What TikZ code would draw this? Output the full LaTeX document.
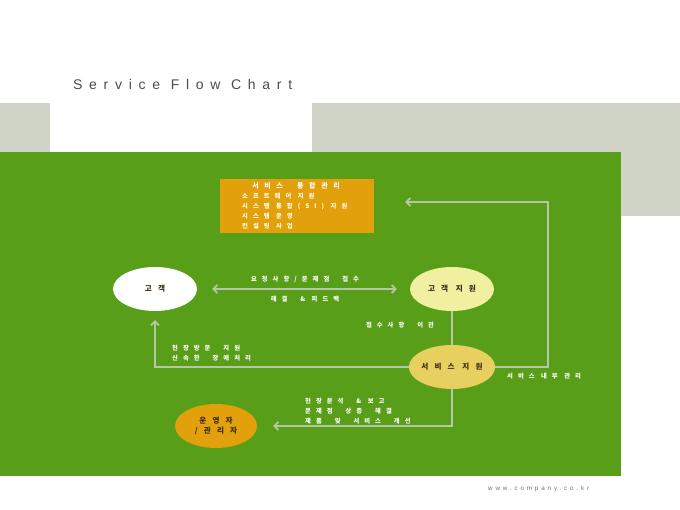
\documentclass[tikz,border=0pt]{standalone}
\usepackage{fontspec}
\setmainfont{Liberation Sans}
\newfontfamily\krfont[LetterSpace=80]{Noto Sans CJK KR}
\newfontfamily\wideat[LetterSpace=48]{Liberation Sans}
\newfontfamily\webfont[LetterSpace=45]{Liberation Sans}
\usetikzlibrary{arrows.meta,shapes.geometric}
\definecolor{bggreen}{RGB}{88,158,24}
\definecolor{bandgray}{RGB}{207,212,199}
\definecolor{boxorange}{RGB}{226,160,12}
\definecolor{paleyel}{RGB}{240,240,160}
\definecolor{midyel}{RGB}{232,208,96}
\definecolor{flowline}{RGB}{180,200,165}
\definecolor{inktxt}{RGB}{60,45,20}

\begin{document}
\begin{tikzpicture}
[x=1pt,y=-1pt
,el/.style={ellipse,minimum width=84pt,minimum height=44pt,inner sep=0pt,text=inktxt,font=\krfont\fontsize{7.6}{10}\selectfont\bfseries,align=center}
,lbl/.style={inner sep=0pt,text=white,align=left,font=\krfont\fontsize{6.3}{10}\selectfont\bfseries}
,fl/.style={draw=flowline,line width=1.8pt,arrows={-Straight Barb[length=4pt,width=8pt]}}
]
\useasboundingbox (0,0) rectangle (680,510);
\fill[white] (0,0) rectangle (680,510);
% bands and panel
\fill[bandgray] (0,103) rectangle (50,152);
\fill[bandgray] (312,103) rectangle (680,216);
\fill[bggreen] (0,152) rectangle (621,476);
\node[anchor=west,inner sep=0pt,text=black!70,font=\wideat\fontsize{14}{16}\selectfont] (title) at (73,84) {Service Flow Chart};
\node[anchor=west,inner sep=0pt,text=black!55,font=\webfont\fontsize{6.3}{8}\selectfont] (web) at (488,489) {www.company.co.kr};
% integrated management box
\node[fill=boxorange,minimum width=154pt,minimum height=54pt,inner sep=0pt] (sinfo) at (297,206) {};
\node[lbl,font=\krfont\fontsize{7}{9}\selectfont\bfseries] (shead) at (296,186) {서비스\ \ 통합관리};
\node[lbl,anchor=north west,text=white!90!yellow] (sitems) at (242,193) {소프트웨어 지원\\시스템 통합(SI) 지원\\시스템 운영\\컨설팅 사업};
% actors
\node[el,fill=white] (cust) at (155,289) {고객};
\node[el,fill=paleyel] (csup) at (452,289) {고객 지원};
\node[el,fill=midyel,minimum width=86pt] (ssup) at (452,367) {서비스 지원};
\node[el,fill=boxorange,minimum width=82pt] (oper) at (216,426) {운영자\\/관리자};
\coordinate (inend) at (405,202);
% flows
\draw[fl,arrows={Straight Barb[length=4pt,width=8pt]-Straight Barb[length=4pt,width=8pt]},shorten <=15pt,shorten >=13pt] (cust) -- (csup);
\draw[fl,arrows=-] (csup) -- (ssup);
\draw[fl,shorten >=9pt] (ssup.west) -| (cust);
\draw[fl] (ssup.east) -- ++(53,0) |- (inend);
\draw[fl,shorten >=16pt] (ssup.south) |- (oper.east);
% labels
\node[lbl] (ask) at (305,279) {요청사항/문제점\ \ 접수};
\node[lbl] (fix) at (305,299) {해결\ \ \&\ 피드백};
\node[lbl] (pass) at (400,325) {접수사항\ \ 이관};
\node[lbl,anchor=west] (visit) at (172,353) {현장방문\ \ 지원\\신속한\ \ 장애처리};
\node[lbl,anchor=west] (inner) at (507,376) {서비스\ 내부\ 관리};
\node[lbl,anchor=west] (report) at (305,411) {현장분석\ \ \&\ 보고\\문제점\ \ 상층\ \ 해결\\제품\ \ 및\ \ 서비스\ \ 개선};
\end{tikzpicture}
\end{document}
